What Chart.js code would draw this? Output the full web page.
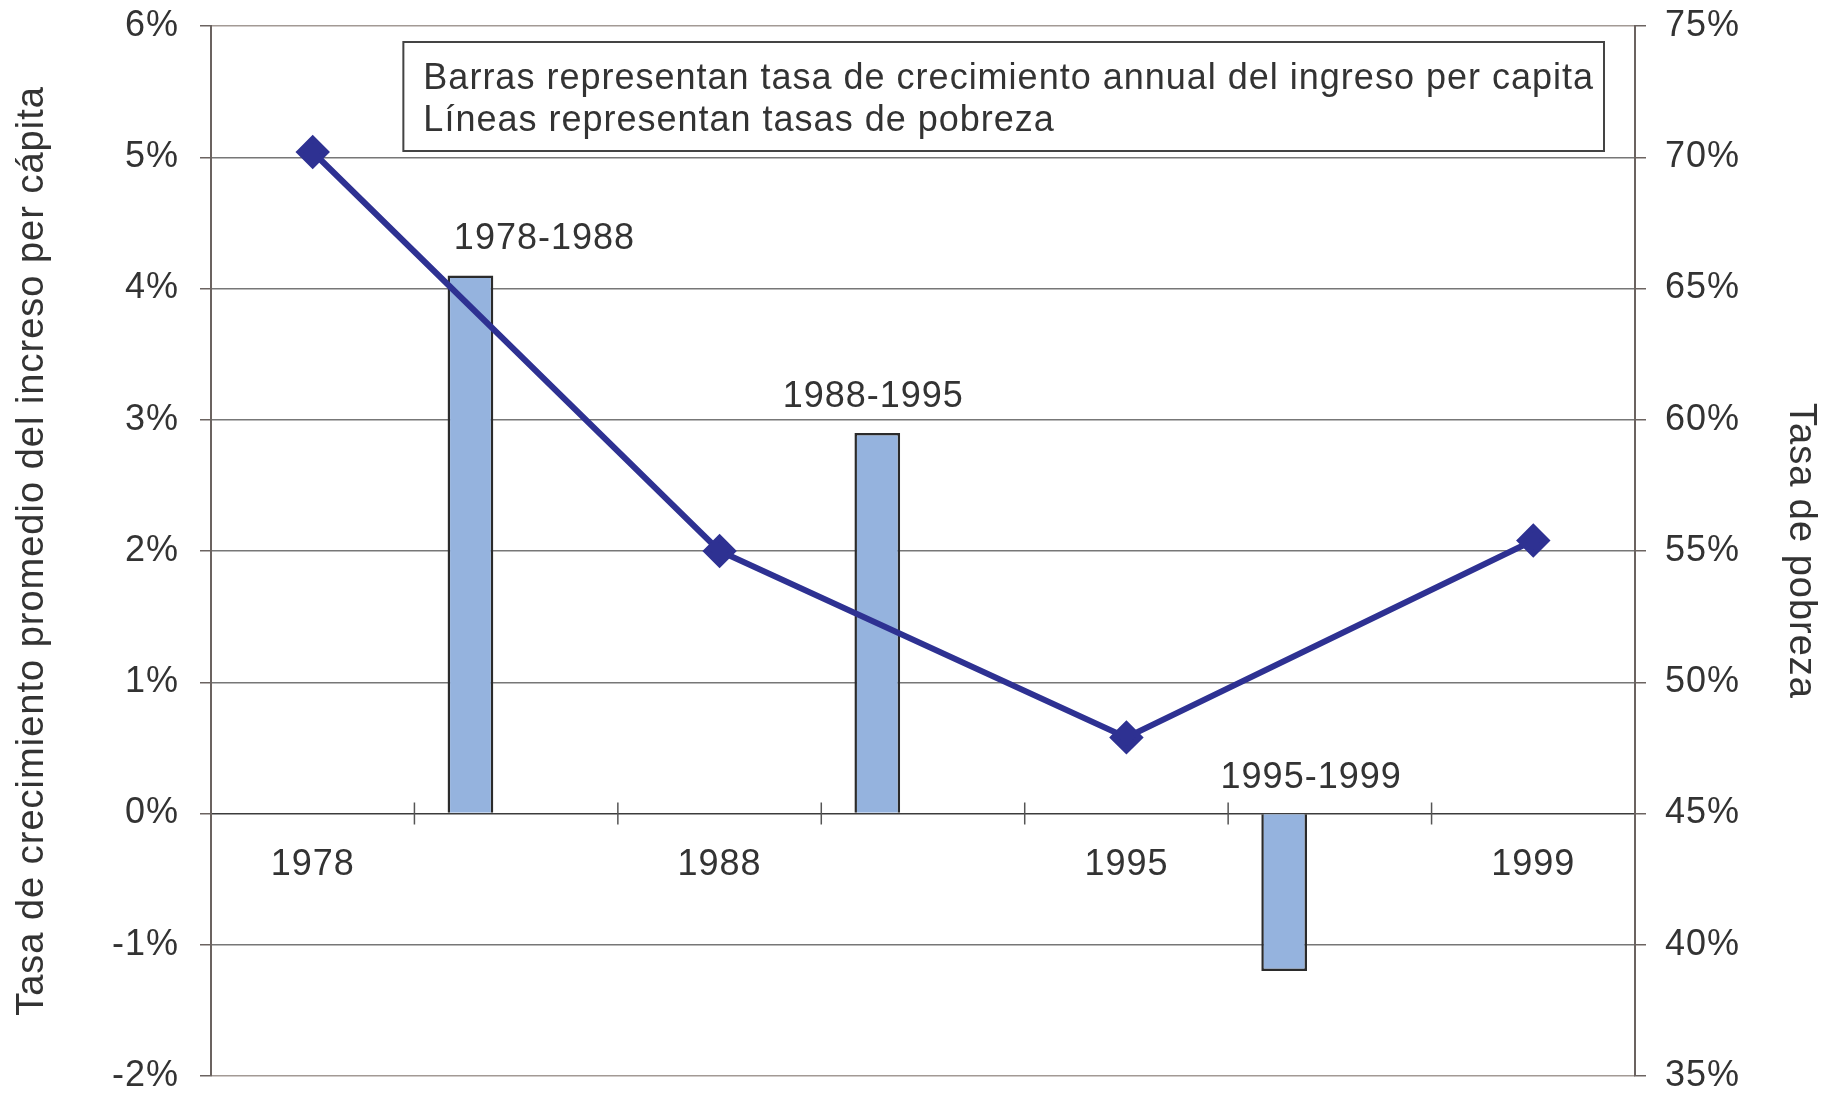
<!DOCTYPE html>
<html>
<head>
<meta charset="utf-8">
<title>Crecimiento y pobreza</title>
<script src="https://cdn.jsdelivr.net/npm/chart.js@4.4.1/dist/chart.umd.min.js"></script>
<style>
  html, body { margin: 0; padding: 0; background: #fff; }
  #wrap { width: 1836px; height: 1095px; }
</style>
</head>
<body>
<div id="wrap"><canvas id="grafico"></canvas></div>
<script>
// datos
let categorias = ['1978', '1978-1988', '1988', '1988-1995', '1995', '1995-1999', '1999']
let crecimiento = [null, 4.1, null, 2.9, null, -1.2, null]   // % anual, eje izquierdo
let pobreza = [70.2, null, 55.0, null, 47.9, null, 55.4]      // %, eje derecho
let vacio = [null, null, null, null, null, null, null]
let nota = ['Barras representan tasa de crecimiento annual del ingreso per capita',
            'Líneas representan tasas de pobreza']
// corrimiento horizontal (px) de cada rotulo de periodo respecto a su barra
let ajusteRotulo = [0, 74, 0, -4, 0, 27, 0]

let txt = '#333333'
let fuente = 'Liberation Sans, Arial, Helvetica, sans-serif'

let rotulos = {
    id: 'rotulos',
    beforeDraw(chart) {
        chart.ctx.letterSpacing = '1px'
    },
    afterDatasetsDraw(chart) {
        let ctx = chart.ctx
        let x = chart.scales.x, y = chart.scales.y
        let area = chart.chartArea
        let y0 = y.getPixelForValue(0)
        ctx.save()
        ctx.letterSpacing = '1px'

        // marcas del eje x sobre la linea del 0%
        ctx.strokeStyle = '#555'
        ctx.lineWidth = 1.5
        for (let i = 0; i < categorias.length - 1; i++) {
            let xb = (x.getPixelForValue(i) + x.getPixelForValue(i + 1)) / 2
            ctx.beginPath()
            ctx.moveTo(xb, y0 - 11)
            ctx.lineTo(xb, y0 + 11)
            ctx.stroke()
        }

        ctx.fillStyle = txt
        ctx.font = '36px ' + fuente
        ctx.textAlign = 'center'
        ctx.textBaseline = 'middle'

        // años bajo la linea del 0%
        categorias.forEach(function(c, i) {
            if (pobreza[i] !== null) ctx.fillText(c, x.getPixelForValue(i), y0 + 52)
        })

        // periodos sobre las barras
        let barras = chart.getDatasetMeta(0).data
        categorias.forEach(function(c, i) {
            if (crecimiento[i] === null) return
            let b = barras[i]
            let tope = Math.min(b.y, b.base)
            ctx.fillText(c, b.x + ajusteRotulo[i], tope - 36)
        })

        // recuadro de la nota
        let ancho = Math.max.apply(null, nota.map(function(t) { return ctx.measureText(t).width }))
        let der = area.right - 31
        let izq = der - ancho - 30
        let sup = area.top + 16
        ctx.strokeStyle = '#444'
        ctx.lineWidth = 2
        ctx.strokeRect(izq, sup, der - izq, 109)
        ctx.textAlign = 'left'
        nota.forEach(function(t, k) {
            ctx.fillText(t, izq + 20, sup + 37 + k * 42)
        })
        ctx.restore()
    }
}

let colorGrilla = function(c) {
    if (c.tick && c.tick.value === 0) return '#3c3c3c'
    if (c.tick && (c.tick.value === 6 || c.tick.value === -2)) return '#a39a95'
    return '#777'
}

let sinRelleno = function(s, ancho) {
    s.width = ancho
    s.paddingTop = 0
    s.paddingBottom = 0
}

new Chart(document.getElementById('grafico'), {
    data: {
        labels: categorias,
        datasets: [{
            type: 'bar',
            label: 'Crecimiento',
            data: crecimiento,
            yAxisID: 'y',
            backgroundColor: '#95b3de',
            borderColor: '#2b2b2b',
            borderWidth: 2.5,
            order: 2
        }, {
            type: 'bar',
            label: '',
            data: vacio,
            yAxisID: 'y',
            order: 3
        }, {
            type: 'bar',
            label: '',
            data: vacio,
            yAxisID: 'y',
            order: 4
        }, {
            type: 'line',
            label: 'Pobreza',
            data: pobreza,
            yAxisID: 'y1',
            borderColor: '#2e3192',
            backgroundColor: '#2e3192',
            borderWidth: 6,
            pointStyle: 'rectRot',
            pointRadius: 13,
            pointHoverRadius: 13,
            spanGaps: true,
            tension: 0,
            order: 1
        }]
    },
    options: {
        responsive: true,
        maintainAspectRatio: false,
        animation: false,
        layout: { padding: { top: 26, bottom: 16, left: 0, right: 0 } },
        datasets: { bar: { categoryPercentage: 0.674, barPercentage: 1 } },
        plugins: { legend: { display: false }, tooltip: { enabled: false } },
        scales: {
            x: {
                type: 'category',
                display: false,
                offset: true
            },
            y: {
                position: 'left',
                min: -2, max: 6,
                ticks: {
                    stepSize: 1,
                    padding: 21,
                    color: txt,
                    font: { family: fuente, size: 36, lineHeight: 1 },
                    callback: function(v) { return v + '%' }
                },
                grid: { color: colorGrilla, lineWidth: 1.5, tickLength: 11, tickColor: '#6b6360' },
                border: { display: true, color: '#6b6360', width: 2 },
                title: {
                    display: true,
                    text: 'Tasa de crecimiento promedio del increso per cápita',
                    color: txt,
                    font: { family: fuente, size: 38, lineHeight: 1.2 },
                    padding: { top: 10, bottom: 0 }
                },
                afterFit: function(s) { sinRelleno(s, 211) }
            },
            y1: {
                position: 'right',
                min: 35, max: 75,
                ticks: {
                    stepSize: 5,
                    padding: 19,
                    color: txt,
                    font: { family: fuente, size: 36, lineHeight: 1 },
                    callback: function(v) { return v + '%' }
                },
                grid: { drawOnChartArea: false, tickLength: 11, tickColor: '#6b6360', lineWidth: 1.5 },
                border: { display: true, color: '#6b6360', width: 2 },
                title: {
                    display: true,
                    text: 'Tasa de pobreza',
                    color: txt,
                    font: { family: fuente, size: 38, lineHeight: 1.2 },
                    padding: { top: 13, bottom: 0 }
                },
                afterFit: function(s) { sinRelleno(s, 201) }
            }
        }
    },
    plugins: [rotulos]
})
</script>
</body>
</html>
